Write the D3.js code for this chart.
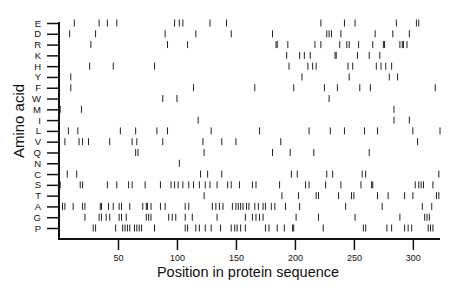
<!DOCTYPE html>
<html>
<head>
<meta charset="utf-8">
<script src="https://cdn.jsdelivr.net/npm/d3@7"></script>
<style>
  body { margin: 0; background: #fff; }
  svg { display: block; font-family: "Liberation Sans", Arial, sans-serif; }
</style>
</head>
<body>
<svg></svg>
<script>
// amino acids, top to bottom
let aminoAcids = ["E", "D", "R", "K", "H", "Y", "F", "W", "M", "I", "L", "V", "Q", "N", "C", "S", "T", "A", "G", "P"]

// positions of each residue in the sequence
let posE = [13, 34, 41, 49, 98, 102, 105, 128, 142, 222, 242, 251, 286, 303, 305]
let posD = [9, 31, 90, 116, 146, 181, 227, 229, 231, 239, 268, 283, 297]
let posR = [27, 92, 109, 184, 185, 194, 217, 222, 238, 244, 246, 254, 266, 275, 276, 289, 291, 292, 295]
let posK = [193, 204, 208, 213, 234, 235, 253, 263, 272]
let posH = [26, 46, 81, 195, 211, 215, 218, 245, 249, 269, 273, 277, 282]
let posY = [10, 206, 246, 280, 287]
let posF = [10, 114, 166, 199, 225, 236, 255, 264, 319]
let posW = [88, 100, 229]
let posM = [1, 19, 284]
let posI = [118, 284, 297]
let posL = [8, 16, 52, 65, 83, 92, 129, 170, 212, 230, 242, 259, 270, 300, 323]
let posV = [5, 17, 20, 25, 43, 62, 66, 88, 122, 138, 150, 188, 304]
let posQ = [65, 67, 123, 181, 196, 216, 263]
let posN = [102]
let posC = [7, 15, 120, 126, 138, 197, 202, 227, 232, 257, 260, 322]
let posS = [1, 18, 20, 41, 49, 59, 62, 73, 86, 95, 98, 101, 105, 110, 114, 119, 124, 128, 134, 143, 146, 153, 164, 167, 187, 209, 212, 226, 239, 256, 265, 266, 302, 305, 307, 309, 317]
let posT = [123, 189, 203, 218, 220, 237, 248, 250, 270, 279, 293, 300, 320, 322]
let posA = [3, 5, 12, 20, 22, 35, 36, 42, 46, 51, 53, 60, 71, 74, 75, 78, 86, 90, 107, 110, 130, 133, 136, 139, 147, 150, 152, 154, 156, 159, 161, 166, 169, 173, 175, 180, 183, 192, 204, 243, 274, 308, 316]
let posG = [22, 34, 36, 40, 43, 51, 53, 57, 74, 76, 78, 93, 96, 99, 107, 113, 134, 158, 164, 167, 170, 173, 201, 220, 251, 289, 310, 312, 314]
let posP = [29, 31, 48, 54, 56, 58, 60, 64, 66, 68, 70, 81, 107, 109, 116, 119, 124, 129, 137, 146, 149, 151, 154, 158, 175, 178, 185, 191, 198, 199, 224, 258, 260, 278, 282, 293, 296, 299, 313, 315, 317]

let xTicks = [50, 100, 150, 200, 250, 300]
let seqLength = 323

let positions = [posE, posD, posR, posK, posH, posY, posF, posW, posM, posI,
  posL, posV, posQ, posN, posC, posS, posT, posA, posG, posP]

// flat list of marks
let marks = []
aminoAcids.forEach((aa, i) => {
  positions[i].forEach(p => marks.push({ aa: aa, pos: p }))
})

let svgWidth = 460
let svgHeight = 299

let svg = d3.select("svg")
  .attr("width", svgWidth)
  .attr("height", svgHeight)

// SCALES
let xScale = d3.scaleLinear()
  .domain([0, seqLength])
  .range([59, 440])

let yScale = d3.scalePoint()
  .domain(aminoAcids)
  .range([23, 228])

let axisY = 239

// Y AXIS
let yAxis = d3.axisLeft(yScale)
  .tickSize(12)
  .tickPadding(6)

let gy = svg.append("g")
  .attr("transform", "translate(59, 0)")
  .call(yAxis)
gy.select(".domain").remove()
gy.selectAll(".tick line").attr("stroke", "#111").attr("stroke-width", 1.5)
gy.selectAll(".tick text")
  .attr("font-size", 9.5)
  .attr("font-family", "Liberation Sans, Arial, sans-serif")
  .attr("fill", "#111")

// X AXIS
let xAxis = d3.axisBottom(xScale)
  .tickValues(xTicks)
  .tickSize(11)
  .tickPadding(5)

let gx = svg.append("g")
  .attr("transform", `translate(0, ${axisY})`)
  .call(xAxis)
gx.select(".domain").remove()
gx.selectAll(".tick line").attr("stroke", "#111").attr("stroke-width", 1.5)
gx.selectAll(".tick text")
  .attr("font-size", 9)
  .attr("font-family", "Liberation Sans, Arial, sans-serif")
  .attr("fill", "#111")

// L-shaped frame
svg.append("path")
  .attr("d", `M${xScale(0)},${yScale("E") - 1}V${axisY}H${xScale(seqLength)}`)
  .attr("fill", "none")
  .attr("stroke", "#111")
  .attr("stroke-width", 2)

// MARKS
svg.append("g")
  .selectAll("line")
  .data(marks)
  .enter()
  .append("line")
  .attr("x1", d => xScale(d.pos))
  .attr("x2", d => xScale(d.pos))
  .attr("y1", d => yScale(d.aa) - 3.5)
  .attr("y2", d => yScale(d.aa) + 3.5)
  .attr("stroke", "#222")
  .attr("stroke-width", 1)

// AXIS TITLES
svg.append("text")
  .attr("x", 248)
  .attr("y", 277)
  .attr("text-anchor", "middle")
  .attr("font-size", 14.5)
  .attr("fill", "#111")
  .text("Position in protein sequence")

svg.append("text")
  .attr("transform", "translate(24, 121) rotate(-90)")
  .attr("text-anchor", "middle")
  .attr("font-size", 15)
  .attr("fill", "#111")
  .text("Amino acid")
</script>
</body>
</html>
